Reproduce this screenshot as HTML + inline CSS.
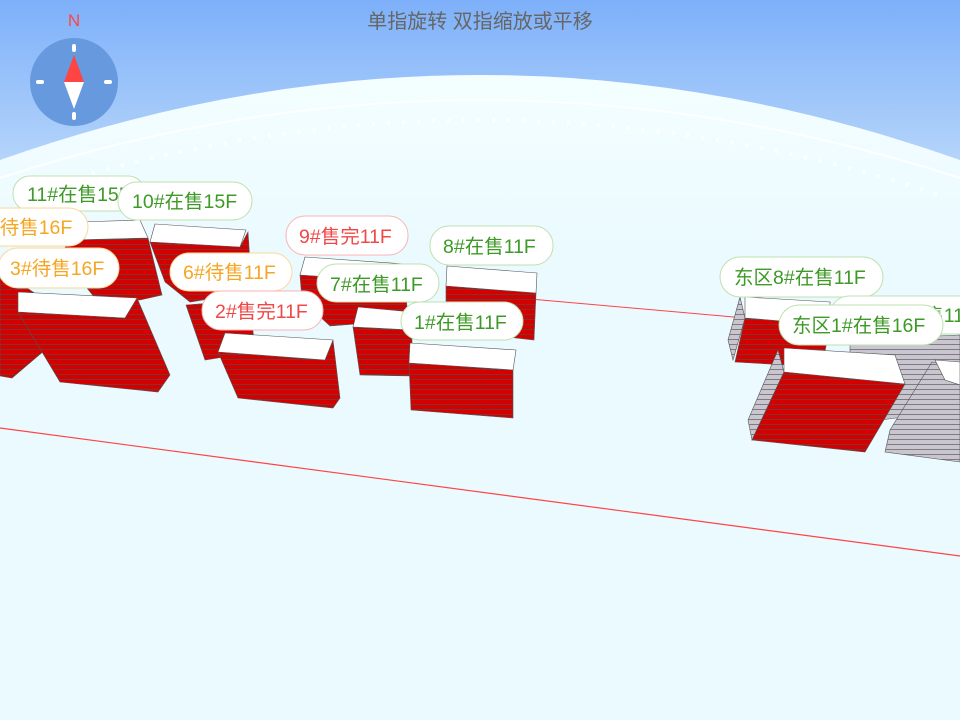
<!DOCTYPE html>
<html><head><meta charset="utf-8"><style>
html,body{margin:0;padding:0;width:960px;height:720px;overflow:hidden}
svg{display:block}
text{font-family:"Liberation Sans","Noto Sans CJK SC",sans-serif}
</style></head><body>
<svg width="960" height="720" viewBox="0 0 960 720" xmlns="http://www.w3.org/2000/svg">
<defs>
<linearGradient id="sky" x1="0" y1="0" x2="0" y2="200" gradientUnits="userSpaceOnUse">
<stop offset="0" stop-color="#7db0fa"/><stop offset="1" stop-color="#c2ddfa"/>
</linearGradient>
<linearGradient id="dome" x1="0" y1="75" x2="0" y2="260" gradientUnits="userSpaceOnUse">
<stop offset="0" stop-color="#f4feff"/><stop offset="1" stop-color="#eafaff"/>
</linearGradient>
<pattern id="fl" width="12" height="5" patternUnits="userSpaceOnUse">
<rect width="12" height="5" fill="#d40000"/><line x1="0" y1="4.5" x2="12" y2="4.5" stroke="#6a4040" stroke-width="0.8"/>
</pattern>
<pattern id="gf" width="12" height="5" patternUnits="userSpaceOnUse">
<rect width="12" height="5" fill="#c9c6cf"/><line x1="0" y1="4.5" x2="12" y2="4.5" stroke="#6c6870" stroke-width="0.8"/>
</pattern>
</defs>
<rect width="960" height="720" fill="url(#sky)"/>
<path d="M0,160 Q480,-10 960,160 L960,720 L0,720 Z" fill="url(#dome)"/>
<path d="M0,178 Q480,22 960,178" fill="none" stroke="#ffffff" stroke-width="2" opacity="0.9"/>
<path d="M20,195 Q480,45 940,195" fill="none" stroke="#ffffff" stroke-width="4" stroke-dasharray="3 12" opacity="0.9"/>
<rect x="0" y="260" width="960" height="460" fill="#ebfaff"/>

<!-- compass -->
<circle cx="74" cy="82" r="44" fill="#6699dd"/>
<rect x="72" y="44" width="4" height="8" rx="2" fill="#fff"/>
<rect x="72" y="112" width="4" height="8" rx="2" fill="#fff"/>
<rect x="36" y="80" width="8" height="4" rx="2" fill="#fff"/>
<rect x="104" y="80" width="8" height="4" rx="2" fill="#fff"/>
<polygon points="74,55 64,82 84,82" fill="#f44"/>
<polygon points="74,109 64,82 84,82" fill="#fff"/>
<text x="74" y="26" font-size="17" fill="#f44" text-anchor="middle">N</text>
<text x="480" y="28" font-size="20" fill="#666" text-anchor="middle">单指旋转 双指缩放或平移</text>

<!-- red lines -->
<line x1="0" y1="428" x2="960" y2="556" stroke="#f44" stroke-width="1.2"/>
<line x1="530" y1="299" x2="745" y2="318" stroke="#f44" stroke-width="1"/>

<g stroke="#555" stroke-width="0.6">
<polygon points="0,270 45,300 45,350 12,378 0,376" fill="url(#fl)"/>
<polygon points="70,240 148,238 162,295 140,300 95,298 60,255" fill="url(#fl)"/>
<polygon points="80,222 140,220 148,238 70,240" fill="#fff"/>
<polygon points="150,242 240,247 248,232 252,292 190,302 165,282" fill="url(#fl)"/>
<polygon points="155,224 246,230 240,247 150,242" fill="#fff"/>
<polygon points="18,312 125,318 137,298 170,375 158,392 60,382" fill="url(#fl)"/>
<polygon points="18,292 137,298 125,318 18,312" fill="#fff"/>
<polygon points="186,305 250,300 255,352 205,360" fill="url(#fl)"/>
<polygon points="300,275 405,282 408,320 330,326 302,300" fill="url(#fl)"/>
<polygon points="305,257 405,264 405,282 300,275" fill="#fff"/>
<polygon points="446,286 536,293 534,340 446,330" fill="url(#fl)"/>
<polygon points="447,266 537,273 536,293 446,286" fill="#fff"/>
<polygon points="353,327 412,330 412,376 360,375" fill="url(#fl)"/>
<polygon points="358,307 412,312 412,330 353,327" fill="#fff"/>
<polygon points="218,352 325,360 333,340 340,398 333,408 238,398" fill="url(#fl)"/>
<polygon points="225,333 333,340 325,360 218,352" fill="#fff"/>
<polygon points="409,363 513,370 513,418 411,410" fill="url(#fl)"/>
<polygon points="410,343 516,350 513,370 409,363" fill="#fff"/>
<polygon points="740,297 745,318 733,360 728,340" fill="url(#gf)"/>
<polygon points="745,318 830,325 822,367 735,362" fill="url(#fl)"/>
<polygon points="745,297 830,302 830,325 745,318" fill="#fff"/>
<polygon points="850,340 960,335 960,410 880,420 850,395" fill="url(#gf)"/>
<polygon points="778,350 784,372 752,440 748,420" fill="url(#gf)"/>
<polygon points="784,372 905,384 865,452 752,440" fill="url(#fl)"/>
<polygon points="784,348 895,355 905,384 784,372" fill="#fff"/>
<polygon points="932,362 960,368 960,462 885,452 890,430" fill="url(#gf)"/>
<polygon points="935,360 960,362 960,385 945,380" fill="#fff"/>
</g>

<!-- labels -->
<g font-size="19.5">
<rect x="13" y="176" width="132" height="35" rx="17" fill="#fff" stroke="#bfe0b0"/>
<text x="27" y="201" fill="#3d9a26">11#在售15F</text>
<rect x="118" y="182" width="134" height="38" rx="19" fill="#fff" stroke="#bfe0b0"/>
<text x="132" y="208" fill="#3d9a26">10#在售15F</text>
<rect x="-30" y="208" width="118" height="38" rx="19" fill="#fff" stroke="#fbd89a"/>
<text x="-22" y="234" fill="#f5a623">4#待售16F</text>
<rect x="-2" y="248" width="121" height="40" rx="20" fill="#fff" stroke="#fbd89a"/>
<text x="10" y="275" fill="#f5a623">3#待售16F</text>
<rect x="286" y="216" width="122" height="39" rx="19" fill="#fff" stroke="#f8b4b4"/>
<text x="299" y="243" fill="#f04848">9#售完11F</text>
<rect x="430" y="226" width="123" height="39" rx="19" fill="#fff" stroke="#bfe0b0"/>
<text x="443" y="253" fill="#3d9a26">8#在售11F</text>
<rect x="170" y="253" width="122" height="38" rx="19" fill="#fff" stroke="#fbd89a"/>
<text x="183" y="279" fill="#f5a623">6#待售11F</text>
<rect x="317" y="264" width="122" height="38" rx="19" fill="#fff" stroke="#bfe0b0"/>
<text x="330" y="291" fill="#3d9a26">7#在售11F</text>
<rect x="202" y="291" width="121" height="39" rx="19" fill="#fff" stroke="#f8b4b4"/>
<text x="215" y="318" fill="#f04848">2#售完11F</text>
<rect x="401" y="302" width="122" height="38" rx="19" fill="#fff" stroke="#bfe0b0"/>
<text x="414" y="329" fill="#3d9a26">1#在售11F</text>
<rect x="720" y="257" width="163" height="40" rx="20" fill="#fff" stroke="#bfe0b0"/>
<text x="734" y="284" fill="#3d9a26">东区8#在售11F</text>
<rect x="830" y="296" width="160" height="38" rx="19" fill="#fff" stroke="#bfe0b0"/>
<text x="844" y="322" fill="#3d9a26">东区2#在售11F</text>
<rect x="779" y="305" width="164" height="40" rx="20" fill="#fff" stroke="#bfe0b0"/>
<text x="792" y="332" fill="#3d9a26">东区1#在售16F</text>
</g>
</svg>
</body></html>
